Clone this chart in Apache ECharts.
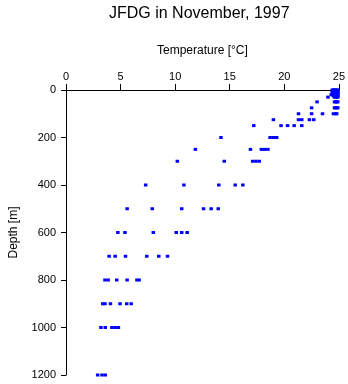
<!DOCTYPE html>
<html>
<head>
<meta charset="utf-8">
<script src="https://cdn.jsdelivr.net/npm/echarts@6/dist/echarts.min.js"></script>
<style>html,body{margin:0;padding:0;background:#fff}#c{width:348px;height:384px}</style>
</head>
<body>
<div id="c"></div>
<script>
const titleText = 'JFDG in November, 1997';
const xName = 'Temperature [°C]';
const yName = 'Depth [m]';
const xTicks = [0, 5, 10, 15, 20, 25];
const yTicks = [0, 200, 400, 600, 800, 1000, 1200];

const depths = [0, 5, 10, 15, 20, 25, 30, 50, 75, 100, 125, 150, 200, 250, 300, 400, 500, 600, 700, 800, 900, 1000, 1200];
const temps = [
  [24.4, 24.5, 24.6, 24.7, 24.8, 24.9],
  [24.4, 24.5, 24.6, 24.7, 24.8, 24.9],
  [24.4, 24.5, 24.6, 24.7, 24.8, 24.9],
  [24.5, 24.6, 24.7, 24.8, 24.9],
  [24.3, 24.5, 24.6, 24.7, 24.8, 24.9],
  [24.5, 24.6, 24.7, 24.8, 24.9],
  [24.0, 24.6, 24.7, 24.8, 24.9],
  [23.0, 24.6, 24.7, 24.8, 24.9],
  [22.5, 24.6, 24.7, 24.8, 24.9],
  [21.3, 22.5, 23.5, 24.5, 24.7, 24.8],
  [19.0, 21.3, 21.6, 22.3, 22.7],
  [17.2, 19.7, 20.3, 20.9, 21.6],
  [14.2, 18.7, 19.0, 19.3],
  [11.85, 16.9, 17.9, 18.2, 18.5],
  [10.2, 14.5, 17.1, 17.4, 17.7],
  [7.3, 10.8, 14.0, 15.5, 16.2],
  [5.6, 7.9, 10.6, 12.6, 13.3, 13.95],
  [4.75, 5.4, 8.0, 10.1, 10.6, 11.1],
  [3.95, 4.5, 5.45, 7.4, 8.5, 9.3],
  [3.57, 3.86, 4.65, 5.6, 6.5, 6.7],
  [3.37, 3.57, 4.07, 4.95, 5.56, 5.97],
  [3.2, 3.6, 4.2, 4.5, 4.8],
  [2.9, 3.3, 3.6]
];

const points = [];
depths.forEach((d, i) => temps[i].forEach(t => points.push([t, d])));

const font = 'Liberation Sans, Arial, Helvetica, sans-serif';
const chart = echarts.init(document.getElementById('c'), null, {renderer: 'canvas'});
chart.setOption({
  animation: false,
  backgroundColor: '#fff',
  title: {
    text: titleText, left: 104, top: 1,
    textStyle: {fontFamily: font, fontSize: 16, fontWeight: 'normal', color: '#000'}
  },
  grid: {left: 54, top: 90, width: 286, height: 285},
  xAxis: {
    type: 'value', position: 'top', min: 0, max: 25, interval: 5,
    name: xName, nameLocation: 'middle', nameGap: 33,
    nameTextStyle: {fontFamily: font, fontSize: 12, color: '#000'},
    axisLine: {show: true, lineStyle: {color: '#000', width: 1}},
    axisTick: {show: true, inside: false, length: 6, lineStyle: {color: '#000'}},
    axisLabel: {fontFamily: font, fontSize: 11, color: '#000', margin: 8,
      formatter: v => xTicks.includes(v) ? String(v) : ''},
    splitLine: {show: false}
  },
  yAxis: {
    type: 'value', inverse: true, min: 0, max: 1200, interval: 200,
    name: yName, nameLocation: 'middle', nameGap: 46, nameRotate: 90,
    nameTextStyle: {fontFamily: font, fontSize: 12, color: '#000'},
    axisLine: {show: true, onZero: false, lineStyle: {color: '#000', width: 1}},
    axisTick: {show: true, inside: false, length: 5, lineStyle: {color: '#000'}},
    axisLabel: {fontFamily: font, fontSize: 11, color: '#000', margin: 10,
      formatter: v => yTicks.includes(v) ? String(v) : ''},
    splitLine: {show: false}
  },
  series: [{
    type: 'scatter', data: points, symbol: 'rect', symbolSize: [3.5, 3],
    itemStyle: {color: '#0000ff', opacity: 1}, clip: false
  }]
});
</script>
</body>
</html>
